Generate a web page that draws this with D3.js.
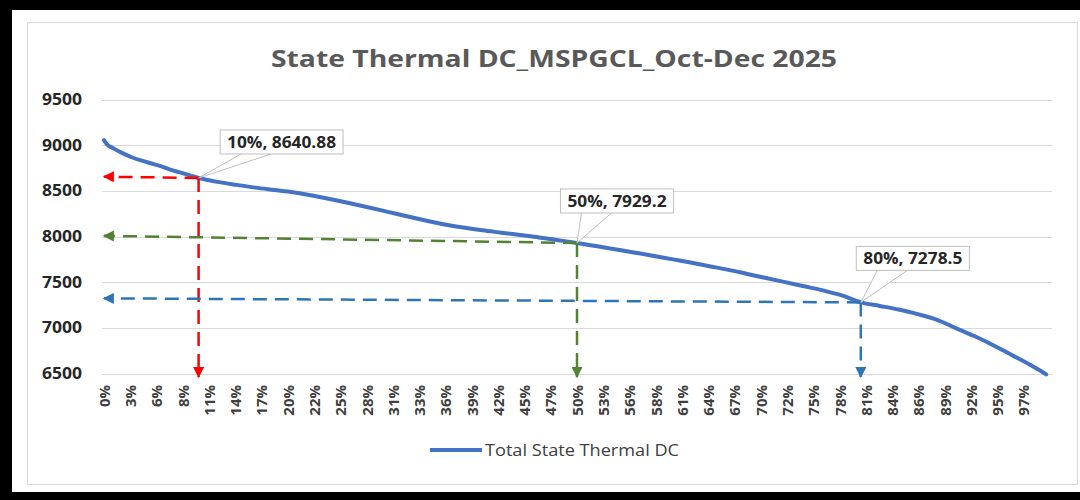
<!DOCTYPE html>
<html>
<head>
<meta charset="utf-8">
<script src="https://cdn.jsdelivr.net/npm/d3@7"></script>
<style>
  body { margin: 0; background: #fff; }
  svg { display: block; font-family: "Open Sans", sans-serif; }
</style>
</head>
<body>
<div id="chart"></div>
<script>
// duration curve, % of time (x) vs DC in MW (y)
var pctPoints = [0, 0.3, 1, 2, 3, 4, 5, 6, 7, 8, 9, 10, 11, 12, 14, 16, 18, 20, 22, 24, 26, 28, 30,
  32, 34, 36, 38, 40, 42, 44, 46, 48, 50, 52, 54, 56, 58, 60, 62, 64, 66, 68, 70, 72, 74, 76, 78,
  80, 82, 84, 86, 88, 90, 92, 94, 96, 98, 99, 99.6];
var dcValues = [9055, 9010, 8965, 8910, 8865, 8830, 8800, 8770, 8732, 8702, 8672, 8640.88, 8618, 8598,
  8565, 8535, 8510, 8485, 8448, 8408, 8364, 8318, 8270, 8222, 8176, 8132, 8098, 8068, 8042, 8016,
  7990, 7960, 7929.2, 7895, 7860, 7825, 7790, 7752, 7715, 7675, 7635, 7590, 7545, 7500, 7455,
  7410, 7355, 7278.5, 7240, 7200, 7150, 7090, 7000, 6910, 6810, 6700, 6590, 6530, 6490];

var xTickLabels = ["0%", "3%", "6%", "8%", "11%", "14%", "17%", "20%", "22%", "25%", "28%", "31%",
  "33%", "36%", "39%", "42%", "45%", "47%", "50%", "53%", "56%", "58%", "61%", "64%", "67%", "70%",
  "72%", "75%", "78%", "81%", "84%", "86%", "89%", "92%", "95%", "97%"];
var yTicks = [6500, 7000, 7500, 8000, 8500, 9000, 9500];

// marked points and the hand drawn arrows
var annPct = [10, 50, 80];
var annValue = [8640.88, 7929.2, 7278.5];
var annText = ["10%, 8640.88", "50%, 7929.2", "80%, 7278.5"];
var arrowLeftValue = [8655, 8007, 7323];
var arrowColors = ["#ff0000", "#548235", "#2e75b6"];

var svgWidth = 1080;
var svgHeight = 500;

var svg = d3.select("#chart")
  .append("svg")
  .attr("width", svgWidth)
  .attr("height", svgHeight);

// frame
svg.append("rect").attr("x", 0).attr("y", 0).attr("width", svgWidth).attr("height", svgHeight).attr("fill", "#fff");
svg.append("rect").attr("x", 0).attr("y", 0).attr("width", svgWidth).attr("height", 10).attr("fill", "#000");
svg.append("rect").attr("x", 0).attr("y", 0).attr("width", 12).attr("height", svgHeight).attr("fill", "#000");
svg.append("rect").attr("x", 0).attr("y", 492).attr("width", svgWidth).attr("height", 8).attr("fill", "#000");
svg.append("rect").attr("x", 27.5).attr("y", 22.5).attr("width", 1050).attr("height", 462)
  .attr("fill", "#fff").attr("stroke", "#d9d9d9");

var xScale = d3.scaleLinear().domain([0, 100]).range([104, 1050]);
var yScale = d3.scaleLinear().domain([6500, 9500]).range([373.5, 99.5]);

// title (the source image is a bit stretched sideways)
svg.append("text")
  .attr("x", 554)
  .attr("y", 67)
  .attr("text-anchor", "middle")
  .attr("fill", "#595959")
  .attr("font-size", "24px")
  .attr("font-weight", 700)
  .attr("textLength", 566)
  .attr("lengthAdjust", "spacingAndGlyphs")
  .text("State Thermal DC_MSPGCL_Oct-Dec 2025");

// gridlines
svg.append("g").selectAll("line")
  .data(yTicks)
  .enter()
  .append("line")
  .attr("x1", 102).attr("x2", 1052)
  .attr("y1", d => Math.round(yScale(d)) + 0.5)
  .attr("y2", d => Math.round(yScale(d)) + 0.5)
  .attr("stroke", "#d9d9d9");

// y axis
var leftAxis = d3.axisLeft(yScale).tickValues(yTicks).tickFormat(d3.format("d")).tickSize(0).tickPadding(0);
var yAxisG = svg.append("g")
  .attr("transform", "translate(82,0)")
  .call(leftAxis);
yAxisG.select(".domain").remove();
yAxisG.selectAll("text")
  .attr("font-family", "Open Sans")
  .attr("font-size", "16px")
  .attr("font-weight", 700)
  .attr("fill", "#262626")
  .attr("textLength", 40)
  .attr("lengthAdjust", "spacingAndGlyphs");

// x axis labels (rotated)
var xTickPos = xTickLabels.map((t, i) => i / xTickLabels.length * 100);
var bottomAxis = d3.axisBottom(xScale)
  .tickValues(xTickPos)
  .tickFormat((d, i) => xTickLabels[i])
  .tickSize(0);
var xAxisG = svg.append("g")
  .attr("transform", "translate(0,385)")
  .call(bottomAxis);
xAxisG.select(".domain").remove();
xAxisG.selectAll("text")
  .attr("font-family", "Open Sans")
  .attr("font-size", "15px")
  .attr("font-weight", 700)
  .attr("fill", "#404040")
  .attr("text-anchor", "end")
  .attr("transform", "rotate(-90)")
  .attr("x", 0)
  .attr("y", 0)
  .attr("dy", "0.35em");

// curve
var lineData = pctPoints.map((p, i) => ({ p: p, v: dcValues[i] }));
var line = d3.line()
  .x(d => xScale(d.p))
  .y(d => yScale(d.v))
  .curve(d3.curveMonotoneX);
svg.append("path")
  .datum(lineData)
  .attr("d", line)
  .attr("fill", "none")
  .attr("stroke", "#4472c4")
  .attr("stroke-width", 4)
  .attr("stroke-linecap", "round");

// arrow heads
var defs = svg.append("defs");
arrowColors.forEach(function(c, i) {
  defs.append("marker")
    .attr("id", "arr" + i)
    .attr("viewBox", "0 0 10 10")
    .attr("refX", 9).attr("refY", 5)
    .attr("markerWidth", 4.4).attr("markerHeight", 4.4)
    .attr("markerUnits", "strokeWidth")
    .attr("orient", "auto")
    .append("path")
    .attr("d", "M0,0L10,5L0,10Z")
    .attr("fill", c);
});

var arrows = svg.append("g");
annPct.forEach(function(p, i) {
  var px = xScale(p), py = yScale(annValue[i]);
  arrows.append("line")
    .attr("x1", px).attr("y1", py)
    .attr("x2", 104).attr("y2", yScale(arrowLeftValue[i]))
    .attr("stroke", arrowColors[i])
    .attr("stroke-width", 2.5)
    .attr("stroke-dasharray", "14,8")
    .attr("marker-end", "url(#arr" + i + ")");
  arrows.append("line")
    .attr("x1", px).attr("y1", py)
    .attr("x2", px).attr("y2", 377)
    .attr("stroke", arrowColors[i])
    .attr("stroke-width", 2.5)
    .attr("stroke-dasharray", "14,8")
    .attr("marker-end", "url(#arr" + i + ")");
});

// callouts
var calloutDx = [83, 40, 52];
var calloutDy = [-36, -42, -44];
annPct.forEach(function(p, i) {
  var px = xScale(p), py = yScale(annValue[i]);
  var g = svg.append("g");
  var t = g.append("text")
    .attr("x", px + calloutDx[i])
    .attr("y", py + calloutDy[i])
    .attr("text-anchor", "middle")
    .attr("dy", "0.36em")
    .attr("font-size", "16px")
    .attr("font-weight", 700)
    .attr("fill", "#262626")
    .text(annText[i]);
  var tw = t.node().getComputedTextLength() * 1.08;
  t.attr("textLength", tw).attr("lengthAdjust", "spacingAndGlyphs");
  var w = tw + 14;
  var h = 24;
  var bx = px + calloutDx[i] - w / 2, by = py + calloutDy[i] - h / 2;
  g.insert("path", "text")
    .attr("d", `M${bx + 21},${by + h}L${px},${py}L${bx + 51},${by + h}`)
    .attr("fill", "#fff")
    .attr("stroke", "#bfbfbf");
  g.insert("rect", "text")
    .attr("x", bx).attr("y", by)
    .attr("width", w).attr("height", h)
    .attr("fill", "#fff")
    .attr("stroke", "#bfbfbf");
});

// legend
svg.append("line")
  .attr("x1", 430).attr("x2", 482)
  .attr("y1", 450).attr("y2", 450)
  .attr("stroke", "#4472c4")
  .attr("stroke-width", 4);
svg.append("text")
  .attr("x", 485)
  .attr("y", 456)
  .attr("font-size", "16px")
  .attr("fill", "#404040")
  .attr("textLength", 194)
  .attr("lengthAdjust", "spacingAndGlyphs")
  .text("Total State Thermal DC");
</script>
</body>
</html>
